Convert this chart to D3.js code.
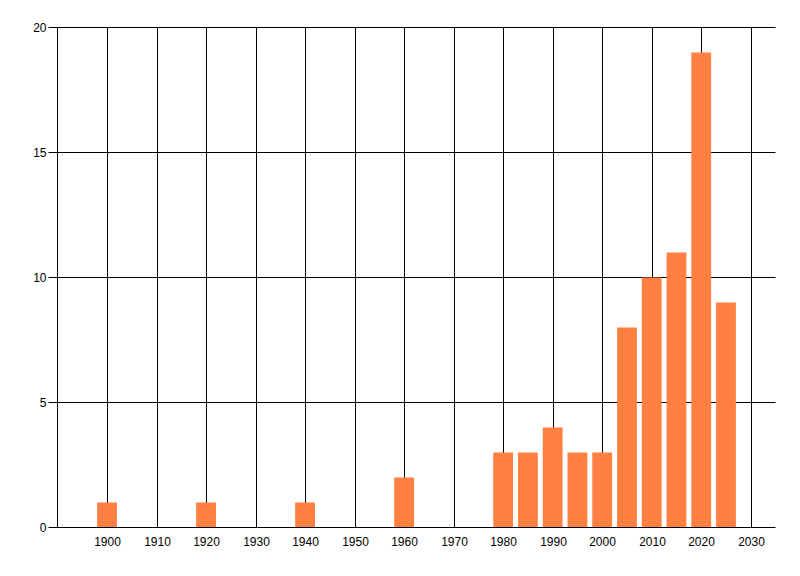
<!DOCTYPE html>
<html><head><meta charset="utf-8">
<script src="https://cdn.jsdelivr.net/npm/d3@7"></script>
<style>body{margin:0;background:#fff}svg{display:block}text{font-family:"Liberation Sans",Arial,sans-serif;font-size:12px;fill:#000}</style>
</head><body><svg id="c" width="800" height="576"></svg>
<script>
const years = [1900, 1920, 1940, 1960, 1980, 1985, 1990, 1995, 2000, 2005, 2010, 2015, 2020, 2025];
const counts = [1, 1, 1, 2, 3, 3, 4, 3, 3, 8, 10, 11, 19, 9];
const xTicks = [1900, 1910, 1920, 1930, 1940, 1950, 1960, 1970, 1980, 1990, 2000, 2010, 2020, 2030];
const yTicks = [0, 5, 10, 15, 20];

const svg = d3.select("#c");
const L = 57.5, R = 775.5, T = 27.5, B = 527.5;
const x = d3.scaleLinear().domain([1890, 2035]).range([L, R]);
const y = d3.scaleLinear().domain([0, 20]).range([B, T]);

// gridlines
svg.append("g").selectAll("line").data(xTicks).join("line")
  .attr("x1", d => Math.round(x(d)) + 0.5).attr("x2", d => Math.round(x(d)) + 0.5)
  .attr("y1", T).attr("y2", B).attr("stroke", "#000");
svg.append("g").selectAll("line").data(yTicks.filter(d => d > 0)).join("line")
  .attr("x1", L - 9).attr("x2", R).attr("y1", d => y(d)).attr("y2", d => y(d)).attr("stroke", "#000");

// bars
const bw = x(1894) - x(1890);
svg.append("g").selectAll("rect").data(years).join("rect")
  .attr("x", (d) => x(d) - bw / 2).attr("width", bw)
  .attr("y", (d, i) => y(counts[i])).attr("height", (d, i) => y(0) - y(counts[i]))
  .attr("fill", "#FF8040");

// axes
svg.append("line").attr("x1", L).attr("x2", L).attr("y1", T).attr("y2", B).attr("stroke", "#000");
svg.append("line").attr("x1", L - 9).attr("x2", R).attr("y1", B).attr("y2", B).attr("stroke", "#000");

svg.append("g").selectAll("text").data(yTicks).join("text")
  .attr("x", L - 11).attr("y", d => y(d) + 4).attr("text-anchor", "end").text(d => d);
svg.append("g").selectAll("text").data(xTicks).join("text")
  .attr("x", d => Math.round(x(d)) + 0.5).attr("y", B + 18).attr("text-anchor", "middle").text(d => d);
</script></body></html>
